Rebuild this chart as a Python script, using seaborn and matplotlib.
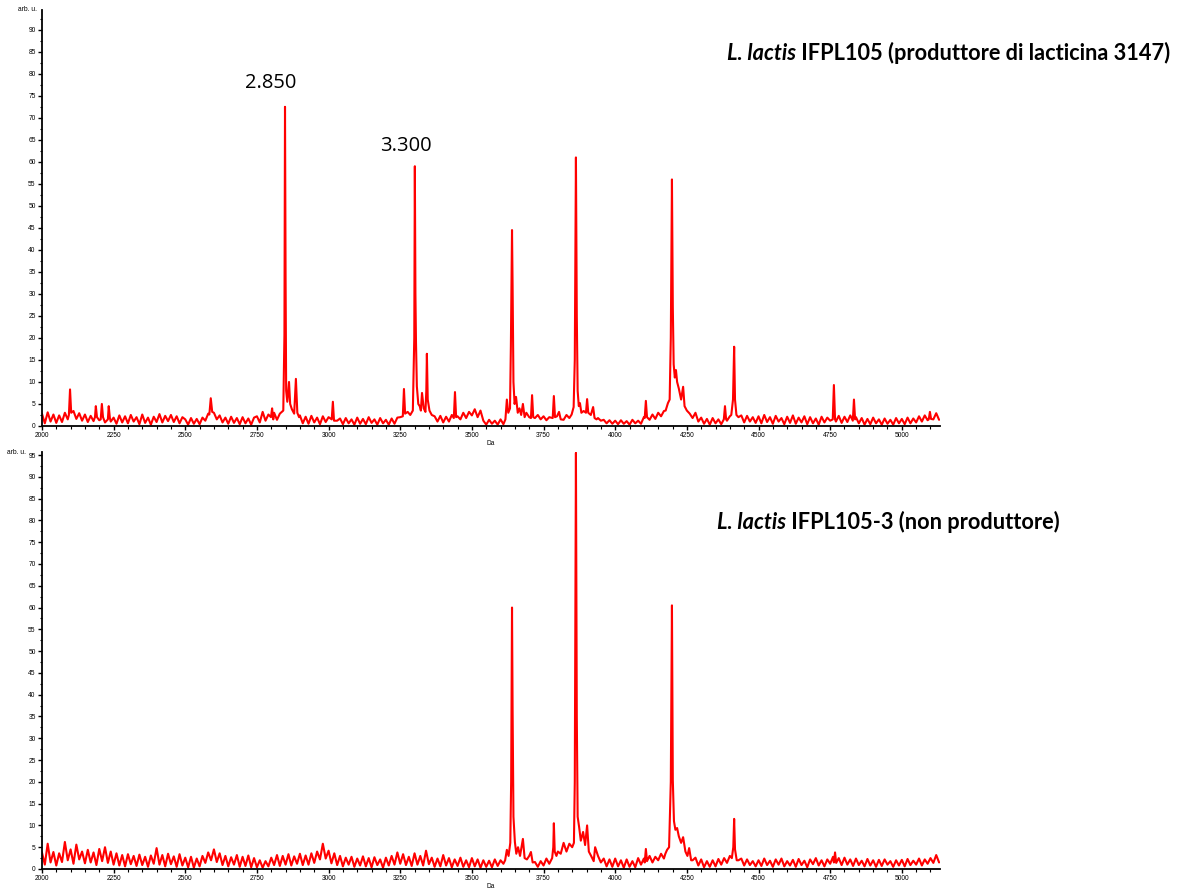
import numpy as np
import pandas as pd
import matplotlib
matplotlib.use('Agg')
import matplotlib.pyplot as plt
import seaborn as sns
from matplotlib.ticker import MultipleLocator

# ---- data (Da, arb. u.) ----
# baseline readings every 10 Da starting at 2000 Da
top_base = [
    2.8, 0.6, 3.1, 1.0, 2.6, 0.7, 2.4, 0.9, 3.0, 1.5, 2.5, 3.4, 1.6, 2.9, 1.2, 2.6, 0.9, 2.3, 1.1, 2.8, 1.3, 2.7, 0.8, 3.0, 1.0,
    1.9, 0.5, 2.4, 0.8, 2.2, 0.6, 2.5, 1.0, 2.0, 0.4, 2.6, 0.7, 1.9, 0.3, 2.1, 0.9, 2.7, 0.8, 2.3, 1.1, 2.5, 0.9, 2.2, 0.6, 2.0,
    1.5, 0.3, 1.8, 0.5, 1.6, 0.4, 1.9, 1.2, 2.8, 1.6, 3.0, 1.5, 2.4, 0.8, 1.9, 0.5, 2.1, 0.7, 1.8, 0.4, 2.0, 0.6, 1.7, 0.3, 1.9,
    2.2, 0.8, 3.2, 1.2, 2.6, 1.0, 3.0, 1.4, 2.8, 1.6, 2.5, 5.0, 4.0, 3.0, 2.5, 2.4, 0.6, 2.1, 0.5, 2.3, 0.8, 1.9, 0.4, 2.2, 0.9,
    2.0, 1.0, 3.0, 1.2, 1.7, 0.4, 1.8, 0.6, 1.5, 0.3, 1.9, 0.5, 1.6, 0.4, 2.0, 0.7, 1.5, 0.3, 1.8, 0.6, 1.4, 0.3, 1.7, 0.5, 1.9,
    2.0, 2.5, 3.0, 3.5, 5.0, 6.0, 5.0, 4.0, 3.0, 3.0, 3.0, 2.5, 2.2, 1.0, 2.3, 0.8, 2.1, 1.0, 2.5, 1.2, 2.2, 1.5, 3.0, 1.8, 3.2,
    2.4, 3.8, 2.0, 3.5, 1.2, 0.3, 1.4, 0.5, 1.2, 0.3, 1.5, 0.4, 1.3, 1.8, 3.0, 5.0, 4.0, 3.0, 2.5, 3.0, 2.0, 2.5, 1.8, 2.5, 1.5,
    2.2, 1.3, 2.0, 1.5, 2.2, 1.6, 2.4, 1.4, 2.5, 1.8, 3.0, 2.5, 3.0, 3.5, 3.0, 3.0, 2.0, 3.0, 2.0, 1.8, 1.2, 1.4, 0.6, 1.3, 0.5,
    1.2, 0.4, 1.3, 0.5, 1.1, 0.3, 1.4, 0.6, 1.2, 0.5, 2.0, 2.2, 1.4, 2.6, 1.6, 3.0, 2.2, 3.4, 3.8, 4.5, 5.0, 6.0, 8.0, 7.0, 6.0,
    4.5, 3.5, 2.2, 3.0, 1.0, 1.9, 0.5, 1.6, 0.3, 1.8, 0.6, 1.5, 0.4, 2.0, 1.2, 2.2, 1.5, 2.6, 2.0, 2.4, 0.8, 2.3, 1.0, 2.0, 0.7,
    2.2, 0.6, 2.5, 0.9, 2.0, 0.5, 2.3, 1.0, 1.8, 0.4, 2.1, 0.7, 2.4, 0.5, 1.9, 0.8, 2.2, 0.4, 2.0, 0.6, 1.7, 0.3, 2.1, 0.8, 1.9,
    1.2, 2.0, 1.0, 2.3, 0.7, 2.1, 0.9, 2.4, 1.1, 2.0, 0.6, 1.8, 0.3, 1.6, 0.4, 1.9, 0.6, 1.5, 0.3, 1.7, 0.5, 1.4, 0.3, 1.8, 0.6,
    1.6, 0.4, 1.9, 0.6, 1.7, 0.8, 2.2, 1.0, 2.4, 1.3, 2.6, 1.5, 2.9, 1.4,
]

bottom_base = [
    3.8, 1.0, 5.8, 1.5, 3.9, 0.8, 3.6, 1.6, 6.2, 2.0, 4.5, 1.2, 5.6, 2.2, 4.0, 1.3, 4.4, 1.5, 3.8, 0.9, 4.6, 1.8, 5.0, 1.4, 4.0,
    1.0, 3.6, 0.8, 3.2, 0.6, 3.4, 1.1, 3.0, 0.7, 3.3, 0.9, 2.8, 0.5, 3.1, 1.2, 4.8, 1.0, 3.2, 0.6, 3.5, 1.1, 2.9, 0.5, 3.4, 0.8,
    2.6, 0.4, 2.8, 0.3, 2.4, 0.6, 3.0, 1.4, 3.8, 2.0, 4.5, 1.6, 3.6, 0.9, 3.0, 0.6, 2.7, 1.0, 3.2, 0.5, 2.8, 0.7, 3.1, 0.4, 2.5,
    0.4, 2.0, 0.3, 1.8, 0.6, 2.6, 0.9, 3.2, 0.7, 3.0, 1.0, 3.4, 0.8, 2.9, 1.2, 3.5, 0.9, 3.1, 1.0, 3.6, 1.4, 4.0, 2.2, 5.8, 2.4,
    4.2, 1.3, 3.6, 0.9, 3.0, 0.6, 2.6, 1.0, 2.8, 0.5, 2.4, 0.8, 2.9, 0.6, 2.5, 0.4, 2.7, 0.9, 2.2, 0.3, 2.6, 0.8, 3.0, 1.0, 3.8,
    1.2, 3.4, 0.9, 2.8, 0.7, 3.6, 1.0, 3.0, 0.8, 4.2, 1.1, 2.6, 0.5, 2.4, 0.6, 3.2, 0.8, 2.5, 0.4, 2.2, 0.7, 2.6, 0.5, 2.0, 0.4,
    2.5, 0.6, 2.2, 0.3, 2.0, 0.5, 1.9, 0.4, 2.2, 0.7, 2.0, 1.2, 3.0, 2.5, 5.0, 5.0, 3.5, 3.0, 4.0, 2.0, 2.5, 2.0, 1.6, 0.5, 1.8,
    0.8, 2.4, 1.2, 3.0, 2.0, 4.0, 3.5, 6.0, 4.0, 5.8, 4.2, 6.0, 5.0, 6.5, 7.0, 8.0, 7.0, 8.0, 5.0, 3.0, 1.5, 2.4, 0.6, 2.2, 0.5,
    2.4, 0.6, 2.0, 0.3, 2.2, 0.5, 1.8, 0.4, 2.5, 1.0, 2.4, 1.2, 3.0, 1.5, 2.8, 2.0, 3.5, 2.4, 4.0, 4.5, 5.0, 10.0, 8.0, 7.0, 6.0,
    5.0, 3.5, 2.0, 2.6, 0.8, 2.2, 0.4, 1.8, 0.5, 2.0, 0.6, 2.3, 1.0, 2.5, 1.4, 3.0, 2.0, 3.0, 2.0, 2.4, 0.8, 2.2, 0.9, 1.8, 0.6,
    2.0, 0.7, 2.4, 0.9, 1.9, 0.5, 2.2, 1.0, 2.4, 0.6, 1.8, 0.8, 2.1, 0.5, 2.3, 0.9, 1.9, 0.4, 2.2, 1.1, 2.5, 0.8, 2.0, 0.6, 2.2,
    1.2, 2.8, 1.4, 2.5, 0.9, 2.6, 1.0, 2.2, 0.7, 2.4, 0.9, 1.9, 0.6, 2.3, 0.8, 2.0, 0.5, 2.1, 0.7, 2.2, 1.0, 1.8, 0.5, 2.0, 0.8,
    2.1, 0.6, 2.3, 0.9, 1.9, 1.0, 2.4, 0.8, 2.2, 1.2, 2.5, 1.4, 3.2, 1.5,
]

# peak regions: (Da, intensity) vertices
top_peaks = [
    [(2094, 2.5), (2098, 8.3), (2102, 3.0)],
    [(2185, 2.0), (2188, 4.5), (2192, 2.0)],
    [(2205, 1.5), (2209, 5.0), (2213, 2.0)],
    [(2230, 1.5), (2233, 4.5), (2237, 1.8)],
    [(2584, 2.6), (2589, 6.3), (2594, 3.2)],
    [(2799, 2.0), (2803, 4.0), (2807, 1.5)],
    [(2842, 3.5), (2846, 20.7), (2848, 72.5), (2850, 33.9), (2852, 8.0), (2856, 5.5), (2862, 10.0),
     (2866, 5.0), (2872, 3.8), (2880, 2.8), (2886, 10.7), (2891, 3.0), (2897, 2.0)],
    [(3011, 1.5), (3015, 5.5), (3019, 1.2)],
    [(3259, 2.2), (3263, 8.4), (3267, 2.8), (3276, 3.2), (3285, 2.5), (3294, 3.5), (3299, 20.0),
     (3301, 59.0), (3303, 30.0), (3305, 19.0), (3308, 9.0), (3313, 5.0), (3318, 4.5), (3322, 3.5),
     (3326, 7.5), (3332, 4.0), (3338, 3.2), (3341, 8.0), (3343, 16.4), (3346, 6.0), (3352, 3.5), (3360, 2.5)],
    [(3437, 1.8), (3441, 7.7), (3445, 2.0)],
    [(3617, 1.5), (3622, 6.0), (3627, 3.0), (3633, 4.0), (3636, 18.0), (3640, 44.5), (3642, 32.0),
     (3645, 10.0), (3649, 5.0), (3654, 6.6), (3660, 3.0), (3666, 4.0), (3672, 2.5), (3678, 5.0), (3684, 2.0)],
    [(3706, 1.8), (3710, 7.0), (3714, 2.0)],
    [(3782, 1.8), (3786, 6.8), (3790, 2.0), (3797, 2.2), (3804, 3.2), (3810, 1.5)],
    [(3848, 2.6), (3855, 4.3), (3859, 15.0), (3863, 61.0), (3866, 25.0), (3869, 8.0), (3873, 4.5),
     (3877, 5.2), (3882, 3.0), (3890, 3.4), (3898, 3.0), (3902, 6.1), (3906, 3.0), (3915, 2.5),
     (3923, 4.3), (3928, 1.8), (3935, 1.5)],
    [(4103, 1.8), (4107, 5.7), (4111, 2.0)],
    [(4176, 3.5), (4184, 5.2), (4190, 6.0), (4194, 20.0), (4198, 56.0), (4201, 27.0), (4204, 14.0),
     (4208, 11.0), (4212, 12.7), (4216, 10.0), (4222, 8.5), (4230, 6.0), (4237, 8.9), (4242, 4.5),
     (4250, 3.5), (4260, 2.8), (4270, 1.8)],
    [(4379, 1.5), (4383, 4.5), (4387, 1.5)],
    [(4405, 2.5), (4411, 6.0), (4415, 18.0), (4418, 6.0), (4423, 2.5)],
    [(4759, 1.5), (4763, 9.3), (4767, 1.5)],
    [(4829, 1.2), (4833, 6.0), (4837, 1.5)],
    [(5094, 1.5), (5098, 3.2), (5102, 1.6)],
]

bottom_peaks = [
    [(3616, 2.0), (3622, 4.4), (3628, 3.0), (3634, 6.0), (3637, 20.0), (3640, 60.0), (3642, 37.0),
     (3645, 12.0), (3650, 6.2), (3655, 3.5), (3661, 5.0), (3668, 3.0), (3678, 6.9), (3684, 2.5),
     (3692, 2.2), (3700, 3.0), (3706, 3.9), (3712, 1.5)],
    [(3780, 2.5), (3784, 5.0), (3786, 10.5), (3789, 4.0), (3795, 3.0)],
    [(3850, 5.0), (3856, 6.0), (3859, 20.0), (3863, 95.5), (3866, 35.0), (3869, 12.0), (3874, 9.7),
     (3880, 6.5), (3888, 8.5), (3895, 5.5), (3902, 10.0), (3908, 4.0), (3916, 3.0), (3925, 1.8)],
    [(4103, 1.5), (4107, 4.6), (4111, 1.8)],
    [(4175, 3.5), (4181, 4.4), (4188, 5.0), (4194, 20.0), (4198, 60.5), (4201, 20.4), (4205, 11.0),
     (4210, 9.0), (4216, 9.4), (4222, 7.5), (4230, 6.0), (4237, 7.3), (4245, 4.0), (4252, 3.0),
     (4258, 4.8), (4265, 2.0)],
    [(4407, 2.5), (4412, 5.0), (4415, 11.5), (4418, 4.5), (4424, 2.0)],
    [(4763, 1.5), (4767, 3.8), (4771, 1.4)],
]

top_title = ('L. lactis', ' IFPL105 (produttore di lacticina 3147)')
bottom_title = ('L. lactis', ' IFPL105-3 (non produttore)')
peak_labels = ['2.850', '3.300']
peak_label_pos = [(2799, 78), (3270, 63.5)]


def build(base, peaks):
    spans = [(p[0][0], p[-1][0]) for p in peaks]
    pts = []
    for i, v in enumerate(base):
        da = 2000 + 10 * i
        if not any(a - 2 <= da <= b + 2 for a, b in spans):
            pts.append((da, v))
    for p in peaks:
        pts.extend(p)
    pts.sort()
    return pd.DataFrame(pts, columns=['Da', 'arb'])


df_top = build(top_base, top_peaks)
df_bot = build(bottom_base, bottom_peaks)

sns.set_style('ticks')
plt.rcParams['font.family'] = ['Liberation Sans', 'DejaVu Sans']
plt.rcParams['text.color'] = 'black'
plt.rcParams['xtick.color'] = 'black'
plt.rcParams['ytick.color'] = 'black'
plt.rcParams['axes.labelcolor'] = 'black'

fig = plt.figure(figsize=(11.85, 8.88), dpi=100)
ax1 = fig.add_axes([0.0354, 0.5203, 0.7578, 0.4685])
ax2 = fig.add_axes([0.0354, 0.0214, 0.7578, 0.4696])

for ax, df, ytop in [(ax1, df_top, 94.5), (ax2, df_bot, 95.7)]:
    sns.lineplot(data=df, x='Da', y='arb', ax=ax, color='#ff0000', linewidth=1.5,
                 estimator=None, sort=False)
    ax.set_xlim(2000, 5133)
    ax.set_ylim(0, ytop)
    ax.xaxis.set_major_locator(MultipleLocator(250))
    ax.xaxis.set_minor_locator(MultipleLocator(50))
    ax.yaxis.set_major_locator(MultipleLocator(5))
    ax.yaxis.set_minor_locator(MultipleLocator(2.5))
    ax.tick_params(which='major', direction='out', length=3, width=1, labelsize=4.8, pad=1.5)
    ax.tick_params(which='minor', direction='out', length=1.8, width=0.8)
    sns.despine(ax=ax)
    for s in ['left', 'bottom']:
        ax.spines[s].set_linewidth(1.3)
        ax.spines[s].set_color('black')
    ax.set_xlabel('Da', fontsize=4.8, labelpad=0.5)
    ax.set_ylabel('')
    ax.set_facecolor('white')

# "arb. u." unit labels at the top of each y axis
ax1.text(-0.006, 1.0, 'arb. u.', transform=ax1.transAxes, ha='right', va='center', fontsize=4.8)
fig.text(26 / 1185, 1 - 453 / 888, 'arb. u.', ha='right', va='center', fontsize=4.8)

for lab, (x, y) in zip(peak_labels, peak_label_pos):
    ax1.text(x, y, lab, ha='center', va='center', fontsize=14.5, family='Open Sans', color='black')

fs = 15.7
fam = 'Lato'
# top title, right aligned
t_main = fig.text(1170 / 1185, 1 - 60 / 888, top_title[1], ha='right', va='baseline',
                  fontsize=fs, weight='bold', family=fam, color='black')
fig.canvas.draw()
bb = t_main.get_window_extent()
fig.text(bb.x0 / fig.bbox.width, 1 - 60 / 888, top_title[0], ha='right', va='baseline',
         fontsize=fs, weight='bold', style='italic', family=fam, color='black')

# bottom title, left aligned
t_it = fig.text(717 / 1185, 1 - 529 / 888, bottom_title[0], ha='left', va='baseline',
                fontsize=fs, weight='bold', style='italic', family=fam, color='black')
fig.canvas.draw()
bb = t_it.get_window_extent()
fig.text(bb.x1 / fig.bbox.width, 1 - 529 / 888, bottom_title[1], ha='left', va='baseline',
         fontsize=fs, weight='bold', family=fam, color='black')

fig.savefig('out.png', dpi=100, facecolor='white')
